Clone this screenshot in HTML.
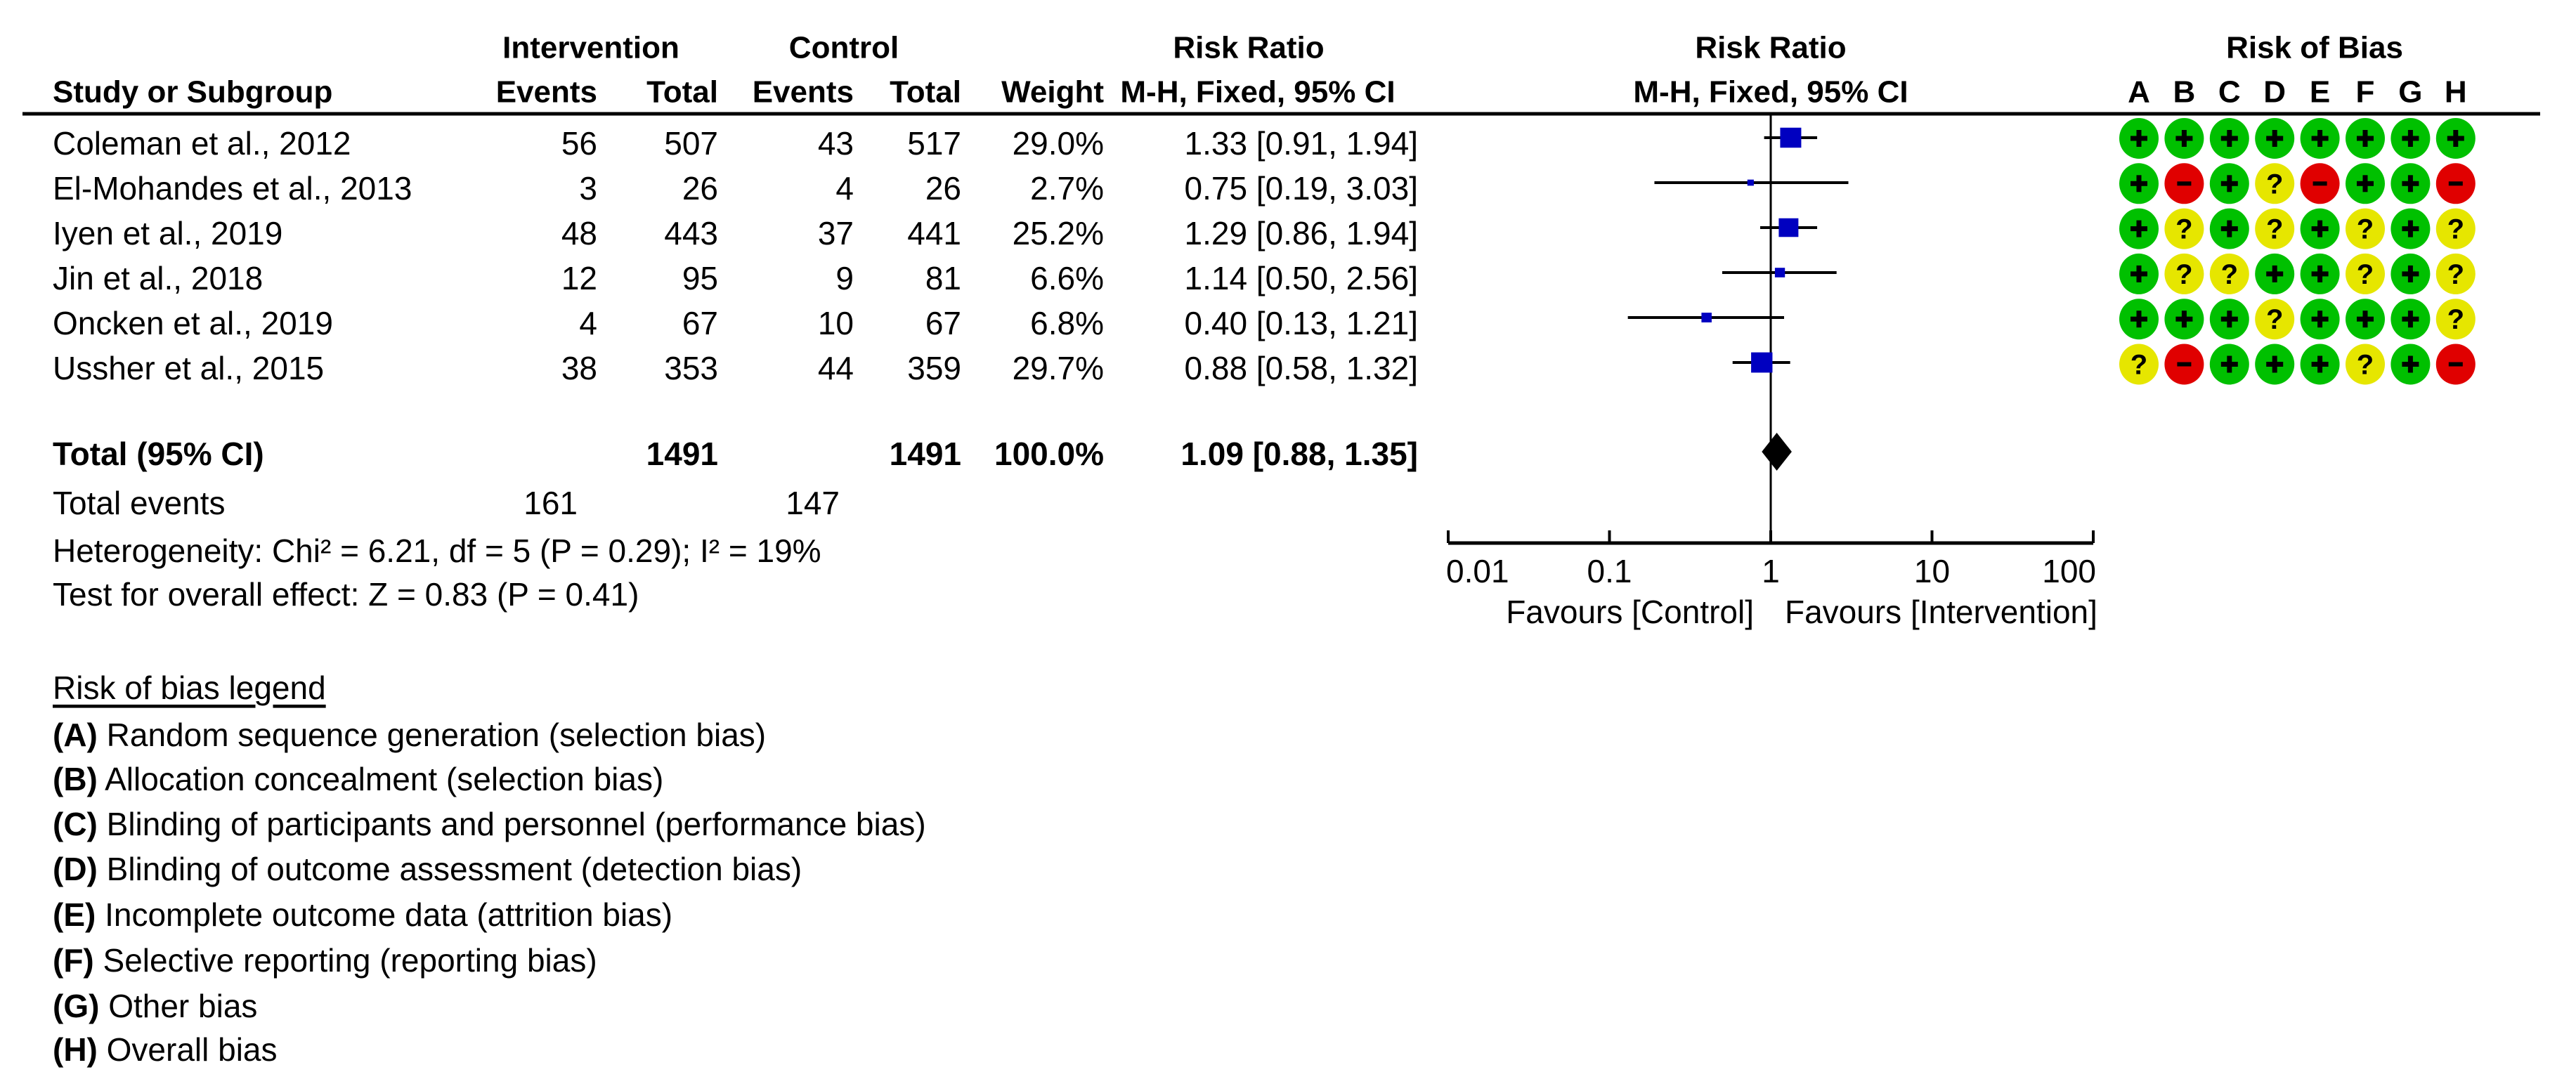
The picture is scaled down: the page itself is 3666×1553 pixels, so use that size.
<!DOCTYPE html>
<html><head><meta charset="utf-8"><style>
html,body{margin:0;padding:0;background:#fff;}
svg{display:block;font-family:"Liberation Sans",Arial,sans-serif;}
text{dominant-baseline:central;}
</style></head><body>
<svg id="chart" width="3666" height="1553" viewBox="0 0 3666 1553" xmlns="http://www.w3.org/2000/svg">
<g font-size="44" font-weight="bold" fill="#000">
<text x="841" y="68" text-anchor="middle">Intervention</text>
<text x="1201" y="68" text-anchor="middle">Control</text>
<text x="1777" y="68" text-anchor="middle">Risk Ratio</text>
<text x="2520" y="68" text-anchor="middle">Risk Ratio</text>
<text x="3294" y="68" text-anchor="middle">Risk of Bias</text>
<text x="75" y="131">Study or Subgroup</text>
<text x="850" y="131" text-anchor="end">Events</text>
<text x="1022" y="131" text-anchor="end">Total</text>
<text x="1215" y="131" text-anchor="end">Events</text>
<text x="1368" y="131" text-anchor="end">Total</text>
<text x="1571" y="131" text-anchor="end">Weight</text>
<text x="1790" y="131" text-anchor="middle">M-H, Fixed, 95% CI</text>
<text x="2520" y="131" text-anchor="middle">M-H, Fixed, 95% CI</text>
</g>
<line x1="32" y1="162" x2="3615" y2="162" stroke="#000" stroke-width="5"/>
<g id="rows" font-size="46" fill="#000"></g>
<g id="forest"></g>
<g id="bias"></g>
<g font-size="46" fill="#000">
<text x="75" y="646" font-weight="bold">Total (95% CI)</text>
<text x="1022" y="646" text-anchor="end" font-weight="bold">1491</text>
<text x="1368" y="646" text-anchor="end" font-weight="bold">1491</text>
<text x="1571" y="646" text-anchor="end" font-weight="bold">100.0%</text>
<text x="2018" y="646" text-anchor="end" font-weight="bold">1.09 [0.88, 1.35]</text>
<text x="75" y="716">Total events</text>
<text x="822" y="716" text-anchor="end">161</text>
<text x="1195" y="716" text-anchor="end">147</text>
<text x="75" y="784">Heterogeneity: Chi² = 6.21, df = 5 (P = 0.29); I² = 19%</text>
<text x="75" y="846">Test for overall effect: Z = 0.83 (P = 0.41)</text>
<text x="75" y="979" text-decoration="underline">Risk of bias legend</text>
<text x="75" y="1046"><tspan font-weight="bold">(A)</tspan> Random sequence generation (selection bias)</text>
<text x="75" y="1109"><tspan font-weight="bold">(B)</tspan> Allocation concealment (selection bias)</text>
<text x="75" y="1173"><tspan font-weight="bold">(C)</tspan> Blinding of participants and personnel (performance bias)</text>
<text x="75" y="1237"><tspan font-weight="bold">(D)</tspan> Blinding of outcome assessment (detection bias)</text>
<text x="75" y="1302"><tspan font-weight="bold">(E)</tspan> Incomplete outcome data (attrition bias)</text>
<text x="75" y="1367"><tspan font-weight="bold">(F)</tspan> Selective reporting (reporting bias)</text>
<text x="75" y="1432"><tspan font-weight="bold">(G)</tspan> Other bias</text>
<text x="75" y="1494"><tspan font-weight="bold">(H)</tspan> Overall bias</text>
<text x="2496" y="871" text-anchor="end">Favours [Control]</text>
<text x="2540" y="871">Favours [Intervention]</text>
</g>
</svg>
<script>
const studies = ["Coleman et al., 2012","El-Mohandes et al., 2013","Iyen et al., 2019","Jin et al., 2018","Oncken et al., 2019","Ussher et al., 2015"];
const intEvents = [56,3,48,12,4,38];
const intTotal = [507,26,443,95,67,353];
const ctrlEvents = [43,4,37,9,10,44];
const ctrlTotal = [517,26,441,81,67,359];
const weights = [29.0,2.7,25.2,6.6,6.8,29.7];
const rr = [1.33,0.75,1.29,1.14,0.40,0.88];
const lo = [0.91,0.19,0.86,0.50,0.13,0.58];
const hi = [1.94,3.03,1.94,2.56,1.21,1.32];
const totalRR = [1.09];
const totalLo = [0.88];
const totalHi = [1.35];
const ticks = [0.01,0.1,1,10,100];
const tickLabels = ["0.01","0.1","1","10","100"];
const biasCols = ["A","B","C","D","E","F","G","H"];
const bias = [
 ["+","+","+","+","+","+","+","+"],
 ["+","-","+","?","-","+","+","-"],
 ["+","?","+","?","+","?","+","?"],
 ["+","?","?","+","+","?","+","?"],
 ["+","+","+","?","+","+","+","?"],
 ["?","-","+","+","+","?","+","-"]
];
const NS="http://www.w3.org/2000/svg";
function mk(tag,attrs,parent,txt){const e=document.createElementNS(NS,tag);for(const k in attrs)e.setAttribute(k,attrs[k]);if(txt!==undefined)e.textContent=txt;parent.appendChild(e);return e;}
const xS=v=>2520+229.5*Math.log10(v);
const rowY=i=>204+64*i;
const rows=document.getElementById('rows');
const fmt=v=>v.toFixed(2);
studies.forEach((s,i)=>{
 const y=rowY(i);
 let t=mk('text',{x:75,y:y},rows,s);
 
 
 const cols=[[850,intEvents[i]],[1022,intTotal[i]],[1215,ctrlEvents[i]],[1368,ctrlTotal[i]],[1571,weights[i].toFixed(1)+'%'],[2018,fmt(rr[i])+' ['+fmt(lo[i])+', '+fmt(hi[i])+']']];
 cols.forEach(c=>{
  const e=mk('text',{x:c[0],y:y,'text-anchor':'end'},rows,String(c[1]));
  
  
 });
});
const f=document.getElementById('forest');
const axY=773;
let vl=mk('line',{x1:xS(1),y1:162,x2:xS(1),y2:axY,stroke:'#000','stroke-width':3},f);


let ax=mk('line',{x1:xS(ticks[0]),y1:axY,x2:xS(ticks[ticks.length-1]),y2:axY,stroke:'#000','stroke-width':5},f);


ticks.forEach((v,i)=>{
 const tk=mk('line',{x1:xS(v),y1:axY-18,x2:xS(v),y2:axY,stroke:'#000','stroke-width':4},f);
 
 
 const anchor=i===0?'start':(i===ticks.length-1?'end':'middle');
 const tl=mk('text',{x:xS(v)+(i===0?-3:(i===ticks.length-1?4:0)),y:813,'text-anchor':anchor,'font-size':46},f,tickLabels[i]);
 
 
});
studies.forEach((s,i)=>{
 const y=rowY(i)-8;
 const ci=mk('line',{x1:xS(lo[i]),y1:y,x2:xS(hi[i]),y2:y,stroke:'#000','stroke-width':4},f);
 
 
 const side=Math.max(8,30*Math.sqrt(weights[i]/29));
 const sq=mk('rect',{x:xS(rr[i])-side/2,y:y-side*0.95/2,width:side,height:side*0.95,fill:'#0000c0'},f);
 
 
});
const dy=643;
const dm=mk('polygon',{points:`${xS(totalLo[0])},${dy} ${xS(totalRR[0])},${dy-27} ${xS(totalHi[0])},${dy} ${xS(totalRR[0])},${dy+27}`,fill:'#000'},f);


const b=document.getElementById('bias');
const colX=j=>3044+64.4*j;
biasCols.forEach((c,j)=>{
 const t=mk('text',{x:colX(j),y:131,'text-anchor':'middle','font-size':44,'font-weight':'bold'},b,c);
 
 
});
const col={'+':'#00c000','-':'#e00000','?':'#e6e600'};
bias.forEach((r,i)=>{
 const y=197+64.3*i;
 r.forEach((v,j)=>{
  const x=colX(j);
  const c=mk('ellipse',{cx:x,cy:y,rx:28,ry:29,fill:col[v]},b);
  
  
  if(v==='+'){
   mk('rect',{x:x-12,y:y-3.5,width:24,height:7,fill:'#000'},b);
   mk('rect',{x:x-3.5,y:y-12,width:7,height:24,fill:'#000'},b);
  }else if(v==='-'){
   mk('rect',{x:x-10,y:y-3,width:20,height:6,fill:'#000'},b);
  }else{
   mk('text',{x:x,y:y+1,'text-anchor':'middle','font-size':40,'font-weight':'bold'},b,'?');
  }
 });
});
</script>
</body></html>
